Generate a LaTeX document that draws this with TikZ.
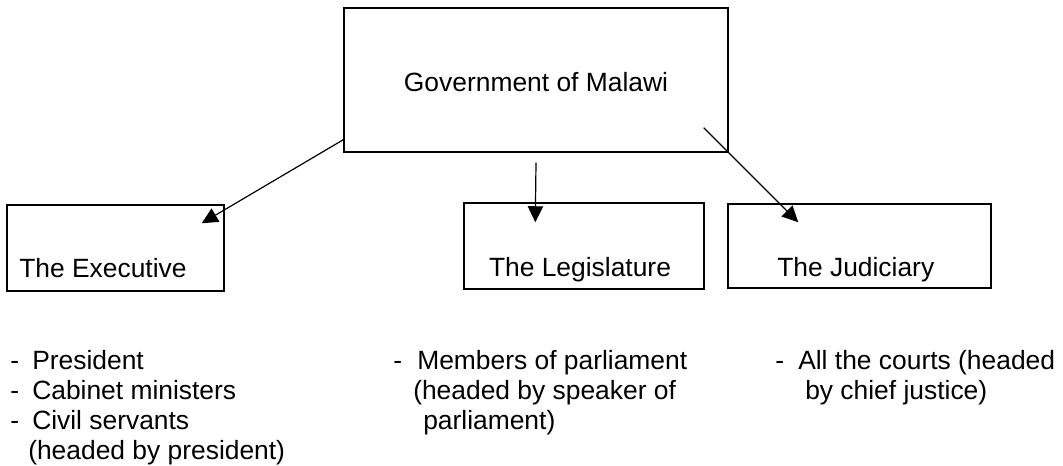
\documentclass[tikz,border=0pt]{standalone}
\usepackage{fontspec}
\setmainfont{Liberation Sans}
\usetikzlibrary{arrows.meta}
\begin{document}
\begin{tikzpicture}[
        x = 0.75pt, y = -0.75pt,
        every node/.style = {font=\fontsize{19.8}{22}\selectfont},
        box/.style = {draw, line width=1.1pt, inner sep=0pt},
        word/.style = {inner sep=0pt},
        item/.style = {anchor=base west, inner sep=0pt},
        link/.style = {-{Triangle[length=12pt,width=11.5pt]}, line width=0.9pt},
        ]
    \useasboundingbox (0,0) rectangle (1063,466);
    \node[box, minimum width=288pt, minimum height=108pt] (gov) at (536,80) {};
    \node[box, minimum width=162.75pt, minimum height=64.5pt] (exec) at (115.5,248) {};
    \node[box, minimum width=180pt, minimum height=64.5pt] (legis) at (584,246) {};
    \node[box, minimum width=197.25pt, minimum height=63pt] (judic) at (859.5,246) {};
    \node[word, anchor=base] (govname) at (536,92) {Government of Malawi};
    \node[word, anchor=base west] (execname) at (19,278) {The Executive};
    \node[word, anchor=base] (legisname) at (580,277) {The Legislature};
    \node[word, anchor=base west] (judicname) at (777,277) {The Judiciary};
    \draw[link] ([yshift=9.75pt]gov.south west) -- ([xshift=-17.25pt,yshift=-14.25pt]exec.north east);
    \draw[link] ([yshift=-7.5pt]gov.south) -- ([xshift=54pt,yshift=-15pt]legis.north west);
    \draw[link] ([xshift=-18.75pt,yshift=18.75pt]gov.south east) -- ([xshift=53.25pt,yshift=-14.25pt]judic.north west);
    \node[item] (execd1) at (10,369) {-};
    \node[item] (exec1) at (32,369) {President};
    \node[item] (execd2) at (10,399) {-};
    \node[item] (exec2) at (32,399) {Cabinet ministers};
    \node[item] (execd3) at (10,429) {-};
    \node[item] (exec3) at (32,429) {Civil servants};
    \node[item] (exec4) at (28,459) {(headed by president)};
    \node[item] (legisd1) at (393,369) {-};
    \node[item] (legis1) at (417,369) {Members of parliament};
    \node[item] (legis2) at (413,399) {(headed by speaker of};
    \node[item] (legis3) at (423,429) {parliament)};
    \node[item] (judicd1) at (775,369) {-};
    \node[item] (judic1) at (798,369) {All the courts (headed};
    \node[item] (judic2) at (805,399) {by chief justice)};
\end{tikzpicture}
\end{document}
